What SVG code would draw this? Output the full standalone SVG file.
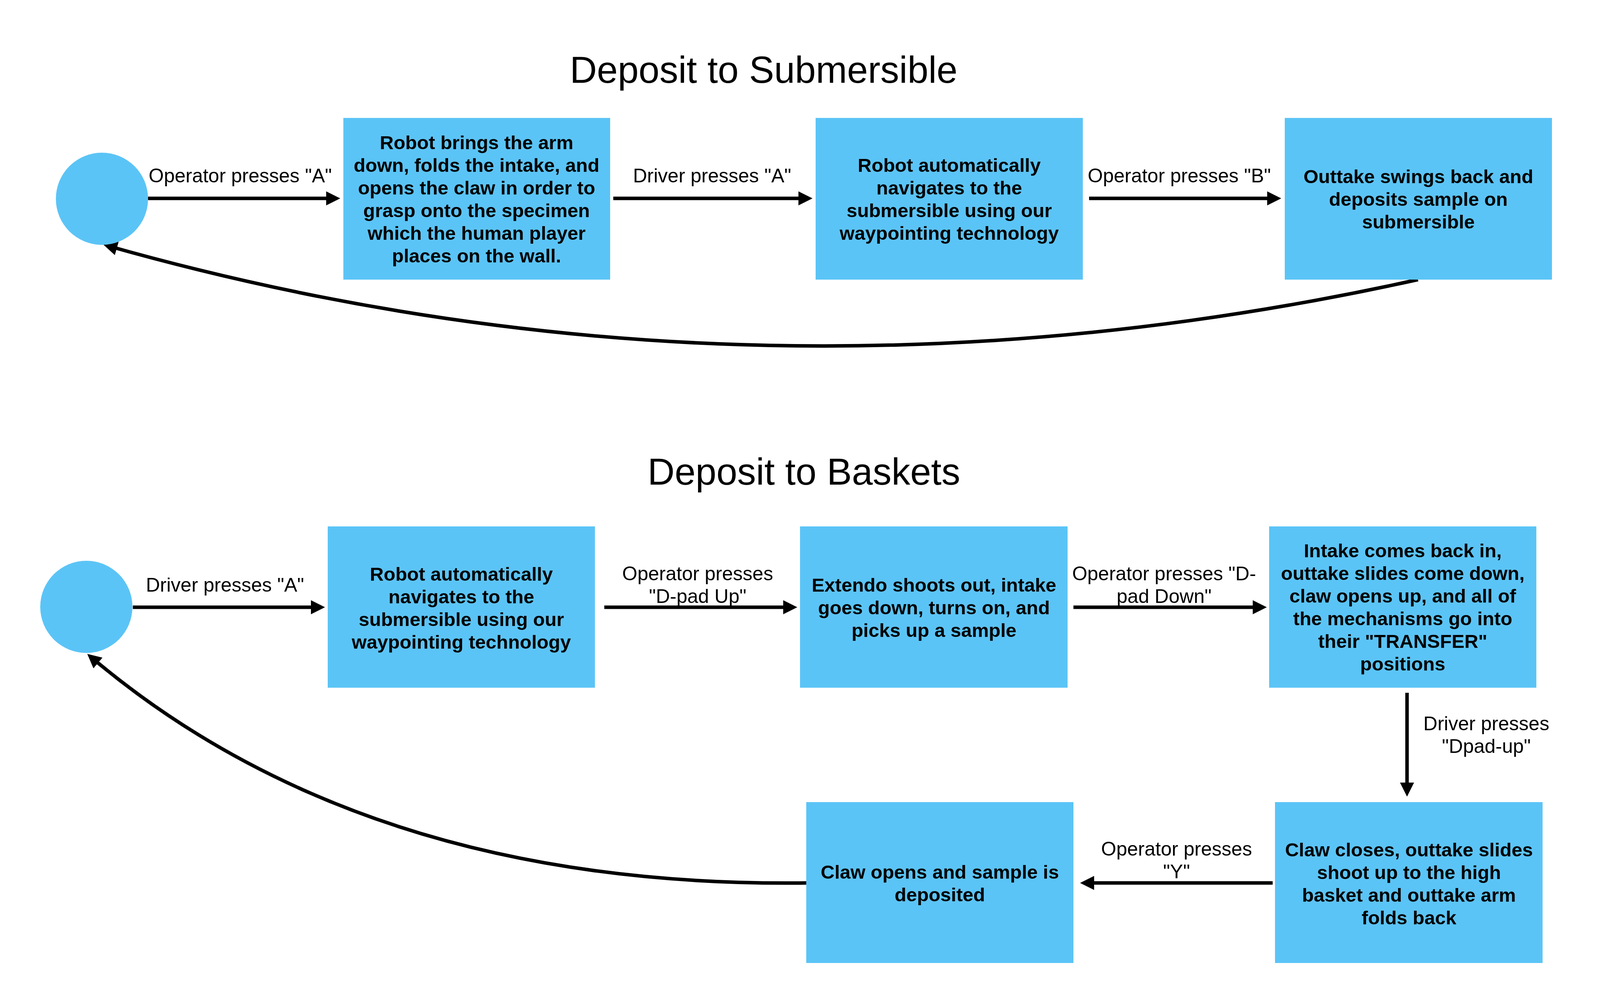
<svg xmlns="http://www.w3.org/2000/svg" width="4116" height="2571" viewBox="0 0 4116 2571">
<style>
.bg{fill:#ffffff}
.node{fill:#5BC4F6}
.title{font-family:"Liberation Sans",Arial,sans-serif;font-size:96px;fill:#000;text-anchor:middle}
.nt{font-family:"Liberation Sans",Arial,sans-serif;font-size:49px;font-weight:bold;fill:#000;text-anchor:middle}
.lbl{font-family:"Liberation Sans",Arial,sans-serif;font-size:50px;fill:#000;text-anchor:middle}
.edge{fill:none;stroke:#000;stroke-width:9}
</style>
<defs>
<marker id="arr" markerUnits="userSpaceOnUse" markerWidth="40" markerHeight="38" refX="26" refY="18" orient="auto">
<path d="M0,0 L36,18 L0,36 z" fill="#000"/>
</marker>
</defs>
<rect class="bg" x="0" y="0" width="4116" height="2571"/>

<text id="title1" class="title" x="1955" y="212">Deposit to Submersible</text>
<text id="title2" class="title" x="2058" y="1241">Deposit to Baskets</text>

<g id="connectors">
<path class="edge" d="M379,508 L861,508" marker-end="url(#arr)"/>
<path class="edge" d="M1570,508 L2070,508" marker-end="url(#arr)"/>
<path class="edge" d="M2788,508 L3270,508" marker-end="url(#arr)"/>
<path class="edge" d="M3630,716 Q1920,1095 274,629" marker-end="url(#arr)"/>
<path class="edge" d="M340,1555 L822,1555" marker-end="url(#arr)"/>
<path class="edge" d="M1547,1555 L2031,1555" marker-end="url(#arr)"/>
<path class="edge" d="M2748,1555 L3233,1555" marker-end="url(#arr)"/>
<path class="edge" d="M3602,1774 L3602,2030" marker-end="url(#arr)"/>
<path class="edge" d="M3258,2261 L2775,2261" marker-end="url(#arr)"/>
<path class="edge" d="M2064,2261 Q933,2275 231,1681" marker-end="url(#arr)"/>
<text class="lbl" x="615" y="467">Operator presses "A"</text>
<text class="lbl" x="1823" y="467">Driver presses "A"</text>
<text class="lbl" x="3019" y="467">Operator presses "B"</text>
<text class="lbl" x="576" y="1515">Driver presses "A"</text>
<text class="lbl" x="1786"><tspan x="1786" y="1486">Operator presses</tspan><tspan x="1786" y="1544">"D-pad Up"</tspan></text>
<text class="lbl" x="2980"><tspan x="2980" y="1486">Operator presses "D-</tspan><tspan x="2980" y="1544">pad Down"</tspan></text>
<text class="lbl" x="3805"><tspan x="3805" y="1870">Driver presses</tspan><tspan x="3805" y="1928">"Dpad-up"</tspan></text>
<text class="lbl" x="3012"><tspan x="3012" y="2191">Operator presses</tspan><tspan x="3012" y="2249">"Y"</tspan></text>
</g>

<g id="start1"><circle class="node" cx="261" cy="509" r="118"/></g>
<g id="n1">
<rect class="node" x="879" y="302" width="683" height="414"/>
<text class="nt"><tspan x="1220" y="382">Robot brings the arm</tspan><tspan x="1220" y="440">down, folds the intake, and</tspan><tspan x="1220" y="498">opens the claw in order to</tspan><tspan x="1220" y="556">grasp onto the specimen</tspan><tspan x="1220" y="614">which the human player</tspan><tspan x="1220" y="672">places on the wall.</tspan></text>
</g>
<g id="n2">
<rect class="node" x="2088" y="302" width="684" height="414"/>
<text class="nt"><tspan x="2430" y="440">Robot automatically</tspan><tspan x="2430" y="498">navigates to the</tspan><tspan x="2430" y="556">submersible using our</tspan><tspan x="2430" y="614">waypointing technology</tspan></text>
</g>
<g id="n3">
<rect class="node" x="3289" y="302" width="684" height="414"/>
<text class="nt"><tspan x="3631" y="469">Outtake swings back and</tspan><tspan x="3631" y="527">deposits sample on</tspan><tspan x="3631" y="585">submersible</tspan></text>
</g>

<g id="start2"><circle class="node" cx="221" cy="1554" r="118"/></g>
<g id="b1">
<rect class="node" x="839" y="1348" width="684" height="413"/>
<text class="nt"><tspan x="1181" y="1487">Robot automatically</tspan><tspan x="1181" y="1545">navigates to the</tspan><tspan x="1181" y="1603">submersible using our</tspan><tspan x="1181" y="1661">waypointing technology</tspan></text>
</g>
<g id="b2">
<rect class="node" x="2048" y="1348" width="685" height="413"/>
<text class="nt"><tspan x="2391" y="1515">Extendo shoots out, intake</tspan><tspan x="2391" y="1573">goes down, turns on, and</tspan><tspan x="2391" y="1631">picks up a sample</tspan></text>
</g>
<g id="b3">
<rect class="node" x="3249" y="1348" width="684" height="413"/>
<text class="nt"><tspan x="3591" y="1427">Intake comes back in,</tspan><tspan x="3591" y="1485">outtake slides come down,</tspan><tspan x="3591" y="1543">claw opens up, and all of</tspan><tspan x="3591" y="1601">the mechanisms go into</tspan><tspan x="3591" y="1659">their "TRANSFER"</tspan><tspan x="3591" y="1717">positions</tspan></text>
</g>
<g id="b4">
<rect class="node" x="3264" y="2054" width="685" height="412"/>
<text class="nt"><tspan x="3607" y="2193">Claw closes, outtake slides</tspan><tspan x="3607" y="2251">shoot up to the high</tspan><tspan x="3607" y="2309">basket and outtake arm</tspan><tspan x="3607" y="2367">folds back</tspan></text>
</g>
<g id="b5">
<rect class="node" x="2064" y="2054" width="684" height="412"/>
<text class="nt"><tspan x="2406" y="2250">Claw opens and sample is</tspan><tspan x="2406" y="2308">deposited</tspan></text>
</g>
</svg>
